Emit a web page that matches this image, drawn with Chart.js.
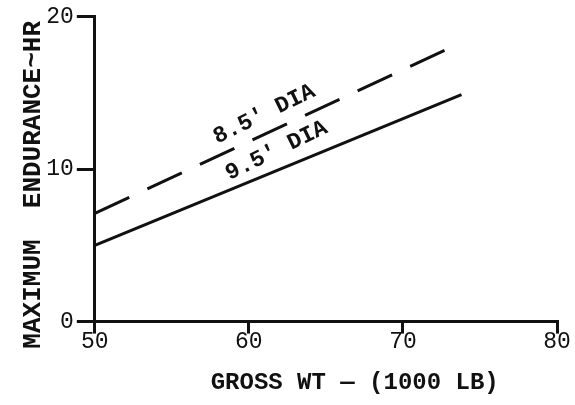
<!DOCTYPE html>
<html>
<head>
<meta charset="utf-8">
<script src="https://cdn.jsdelivr.net/npm/chart.js@4"></script>
<style>
  html, body { margin: 0; padding: 0; background: #fff; }
  #wrap { width: 575px; height: 405px; }
</style>
</head>
<body>
<div id="wrap"><canvas id="endurance-chart"></canvas></div>
<script>
// gross weight (1000 lb) / max endurance (hr)
const dia95X = [50, 73.8];
const dia95Y = [5.0, 14.9];
const dia85X = [50, 72.7];
const dia85Y = [7.1, 17.8];
const xTicks = [50, 60, 70, 80];
const yTicks = [0, 10, 20];

const toPoints = (xs, ys) => xs.map((x, i) => ({ x: x, y: ys[i] }));

const ink = '#111';
const typeFont = 'Liberation Mono';

// labels written along the curves
const curveLabels = {
    id: 'curveLabels',
    afterDatasetsDraw(chart) {
        const { ctx, scales } = chart;
        const items = [
            { text: "8.5' DIA", x: 61.0, y: 13.6 },
            { text: "9.5' DIA", x: 61.8, y: 11.2 }
        ];
        ctx.save();
        ctx.fillStyle = ink;
        ctx.font = 'bold 23px "' + typeFont + '"';
        ctx.textAlign = 'center';
        ctx.textBaseline = 'middle';
        items.forEach(item => {
            const px = scales.x.getPixelForValue(item.x);
            const py = scales.y.getPixelForValue(item.y);
            ctx.save();
            ctx.translate(px, py);
            ctx.rotate(-26 * Math.PI / 180);
            ctx.fillText(item.text, 0, 0);
            ctx.restore();
        });
        ctx.restore();
    }
};

const ctx = document.getElementById('endurance-chart').getContext('2d');
new Chart(ctx, {
    type: 'scatter',
    data: {
        datasets: [{
            label: "9.5' DIA",
            data: toPoints(dia95X, dia95Y),
            showLine: true,
            borderColor: ink,
            borderWidth: 3,
            pointRadius: 0
        }, {
            label: "8.5' DIA",
            data: toPoints(dia85X, dia85Y),
            showLine: true,
            borderColor: ink,
            borderWidth: 3,
            borderDash: [38, 20],
            pointRadius: 0
        }]
    },
    plugins: [curveLabels],
    options: {
        responsive: true,
        maintainAspectRatio: false,
        animation: false,
        layout: { padding: { left: 18, right: 18, top: 16, bottom: 8 } },
        plugins: {
            legend: { display: false },
            tooltip: { enabled: false }
        },
        scales: {
            x: {
                type: 'linear',
                min: 50,
                max: 80,
                afterBuildTicks: axis => { axis.ticks = xTicks.map(v => ({ value: v })); },
                border: { display: true, color: ink, width: 3 },
                grid: { drawOnChartArea: false, drawTicks: true, tickLength: 12, color: ink, lineWidth: 3 },
                ticks: {
                    color: ink,
                    padding: -5,
                    font: { family: typeFont, size: 23 }
                },
                title: {
                    display: true,
                    text: '    GROSS WT \u2014 (1000 LB)',
                    color: ink,
                    padding: { top: 17, bottom: 0 },
                    font: { family: typeFont, size: 24, weight: 'bold' }
                }
            },
            y: {
                min: 0,
                max: 20,
                afterBuildTicks: axis => { axis.ticks = yTicks.map(v => ({ value: v })); },
                border: { display: true, color: ink, width: 3 },
                grid: { drawOnChartArea: false, drawTicks: true, tickLength: 18, color: ink, lineWidth: 3 },
                ticks: {
                    color: ink,
                    padding: 3,
                    font: { family: typeFont, size: 23 }
                },
                title: {
                    display: true,
                    text: 'MAXIMUM  ENDURANCE~HR  ',
                    color: ink,
                    padding: { top: 0, bottom: -6 },
                    font: { family: typeFont, size: 26, weight: 'bold' }
                }
            }
        }
    }
});
</script>
</body>
</html>
